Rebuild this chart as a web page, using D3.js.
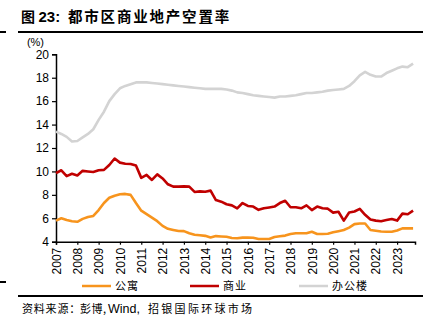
<!DOCTYPE html>
<html><head><meta charset="utf-8">
<script src="https://cdn.jsdelivr.net/npm/d3@7"></script>
<style>
html,body{margin:0;padding:0;background:#fff;}
svg{display:block;font-family:"Liberation Sans",Arial,sans-serif;}
</style></head>
<body>
<script>
const years = d3.range(2007, 2024);
const tickLabels = years.map(String);
const yTicks = [4,6,8,10,12,14,16,18,20];
const seriesNames = ["公寓","商业","办公楼"];
const seriesColors = ["#F7941D","#C00000","#D3D3D3"];
// quarterly, 2007Q1 .. 2023Q4
const apartment = [5.8,6.0,5.85,5.75,5.7,5.95,6.1,6.2,6.7,7.3,7.75,7.93,8.05,8.08,8.0,7.3,
 6.65,6.35,6.05,5.75,5.35,5.1,5.0,4.91,4.9,4.72,4.6,4.55,4.5,4.36,4.48,4.45,
 4.42,4.32,4.3,4.35,4.35,4.34,4.23,4.23,4.23,4.4,4.46,4.52,4.66,4.72,4.72,4.72,
 4.85,4.66,4.66,4.68,4.8,4.9,5.0,5.2,5.5,5.56,5.55,5.0,4.94,4.87,4.85,4.85,4.95,5.14,5.14,5.14];
const retail = [9.85,10.1,9.6,9.8,9.65,10.05,10.0,9.95,10.1,10.13,10.55,11.1,10.75,10.65,10.64,10.5,
 9.45,9.7,9.27,9.75,9.4,8.9,8.7,8.7,8.72,8.7,8.25,8.3,8.27,8.36,7.55,7.42,
 7.2,7.1,6.85,7.3,7.05,7.0,6.72,6.85,6.92,7.0,7.3,7.5,6.94,6.94,6.85,7.1,
 6.7,7.0,6.85,6.82,6.48,6.56,5.8,6.5,6.58,6.8,6.3,5.9,5.8,5.75,5.85,5.94,5.8,6.4,6.34,6.65];
const office = [13.4,13.2,12.95,12.55,12.6,12.9,13.2,13.6,14.4,15.1,16.0,16.6,17.1,17.3,17.45,17.6,
 17.6,17.6,17.55,17.5,17.45,17.4,17.35,17.3,17.25,17.2,17.15,17.1,17.05,17.05,17.05,17.05,
 17.0,16.9,16.75,16.7,16.6,16.5,16.45,16.4,16.35,16.3,16.4,16.4,16.45,16.5,16.6,16.7,
 16.7,16.75,16.8,16.9,16.95,17.0,17.05,17.3,17.7,18.2,18.5,18.25,18.1,18.1,18.4,18.6,18.8,18.95,18.9,19.2];

const W = 439, H = 332;
const svg = d3.select("body").append("svg").attr("width", W).attr("height", H);
const CJK = "'Noto Sans CJK SC'";
const LAT = "'Liberation Sans',Arial";

// title
svg.append("text").attr("x", 21).attr("y", 22).text("图")
  .style("font-size", "14px").style("font-weight", "bold").style("font-family", CJK);
svg.append("text").attr("x", 38.5).attr("y", 22).text("23:")
  .style("font-size", "15px").style("font-weight", "bold").style("font-family", LAT);
svg.append("text").attr("x", 68).attr("y", 22).text("都市区商业地产空置率")
  .style("font-size", "14.5px").style("font-weight", "bold").style("font-family", CJK)
  .style("letter-spacing", "1.8px");

// rules
svg.append("line").attr("x1", 18).attr("x2", 423).attr("y1", 32).attr("y2", 32).attr("stroke", "#000").attr("stroke-width", 2);
svg.append("line").attr("x1", 0).attr("x2", 6).attr("y1", 32).attr("y2", 32).attr("stroke", "#000").attr("stroke-width", 2);
svg.append("line").attr("x1", 18).attr("x2", 423).attr("y1", 296).attr("y2", 296).attr("stroke", "#000").attr("stroke-width", 2);
svg.append("line").attr("x1", 0).attr("x2", 6).attr("y1", 282).attr("y2", 282).attr("stroke", "#000").attr("stroke-width", 2);

const x = d3.scaleLinear().domain([2007, 2023.84]).range([56, 415]);
const y = d3.scaleLinear().domain([4, 20]).range([241.7, 54.3]);

// y axis
const yAxis = svg.append("g").attr("transform", "translate(56,0)")
  .call(d3.axisLeft(y).tickValues(yTicks).tickSize(4).tickPadding(3).tickFormat(d3.format("d")));
yAxis.select(".domain").attr("stroke", "#000").attr("stroke-width", 1.5);
yAxis.selectAll(".tick line").attr("stroke", "#000").attr("stroke-width", 1.2);
yAxis.selectAll("text").style("font-size", "12px").attr("fill", "#000").style("font-family", LAT);

svg.append("text").attr("x", 44).attr("y", 46).attr("text-anchor", "end")
  .style("font-size", "11px").style("font-family", LAT).text("(%)");

// x axis
const xAxis = svg.append("g").attr("transform", "translate(0,241.7)")
  .call(d3.axisBottom(x).tickValues(years).tickSize(3).tickFormat((d, i) => tickLabels[i]));
xAxis.select(".domain").attr("stroke", "#000").attr("stroke-width", 1.5);
xAxis.selectAll(".tick line").attr("stroke", "#000").attr("stroke-width", 1.2);
xAxis.selectAll("text")
  .attr("transform", "rotate(-90)")
  .attr("x", -6).attr("y", 0).attr("dy", "0.35em")
  .attr("text-anchor", "end")
  .style("font-size", "12px").attr("fill", "#000").style("font-family", LAT);

// lines
const allSeries = [apartment, retail, office];
const line = d3.line().x((d, i) => x(2007 + i / 4)).y(d => y(d)).curve(d3.curveLinear);
[2, 1, 0].forEach(k => {
  svg.append("path").datum(allSeries[k]).attr("d", line)
    .attr("fill", "none").attr("stroke", seriesColors[k]).attr("stroke-width", 2.6)
    .attr("stroke-linejoin", "round");
});

// legend
const legX = [82, 190, 299];
seriesNames.forEach((n, k) => {
  svg.append("line").attr("x1", legX[k]).attr("x2", legX[k] + 29).attr("y1", 286).attr("y2", 286)
    .attr("stroke", seriesColors[k]).attr("stroke-width", 2.5);
  svg.append("text").attr("x", legX[k] + 33).attr("y", 290).text(n)
    .style("font-size", "11px").style("font-family", CJK).style("letter-spacing", "1px").attr("fill", "#000");
});

// source
const srcY = 313;
svg.append("text").attr("x", 22).attr("y", srcY).text("资料来源：")
  .style("font-size", "11px").style("font-family", CJK).style("letter-spacing", "0.8px");
svg.append("text").attr("x", 80).attr("y", srcY).text("彭博,")
  .style("font-size", "11px").style("font-family", CJK).style("letter-spacing", "0.5px");
svg.append("text").attr("x", 108).attr("y", srcY).text("Wind,")
  .style("font-size", "12.5px").style("font-family", LAT);
svg.append("text").attr("x", 148).attr("y", srcY).text("招银国际环球市场")
  .style("font-size", "11px").style("font-family", CJK).style("letter-spacing", "2.3px");
</script>
</body></html>
